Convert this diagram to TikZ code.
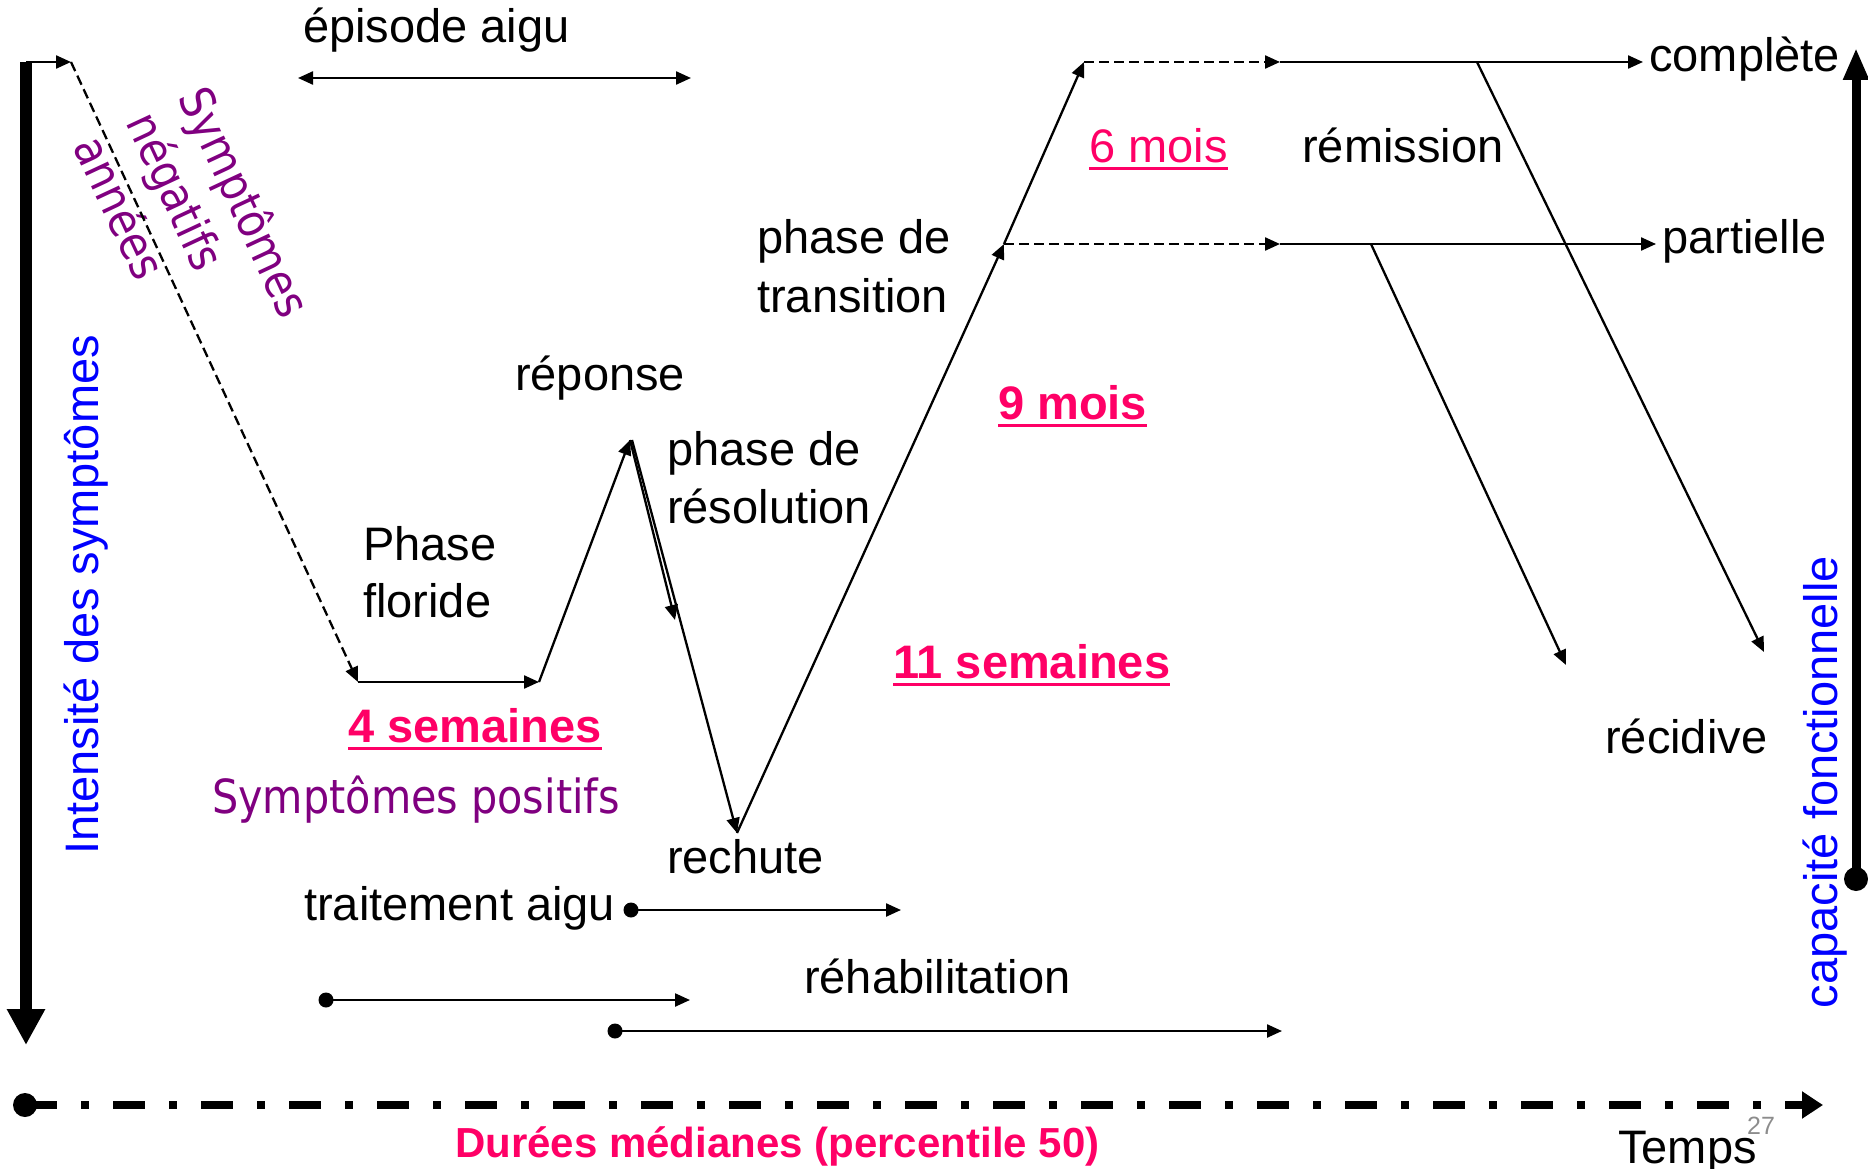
\documentclass[tikz,border=0pt]{standalone}
\usepackage{fontspec}
\setmainfont{Liberation Sans}
\newfontfamily\tahoma[FakeStretch=0.88]{DejaVu Sans}
\usetikzlibrary{arrows.meta}
\definecolor{pinkc}{RGB}{255,0,102}
\definecolor{purp}{RGB}{128,0,128}
\definecolor{bluec}{RGB}{0,0,255}
\definecolor{grayc}{RGB}{140,140,140}
\tikzset{
  txt/.style={inner sep=0pt, anchor=base west, font=\fontsize{47}{56}\selectfont},
  btxt/.style={txt, text=pinkc, font=\fontsize{47}{56}\selectfont\bfseries},
  rtxt/.style={txt, text=pinkc},
  ptxt/.style={txt, text=purp, font=\tahoma\fontsize{47}{58}\selectfont},
  bluetxt/.style={txt, text=bluec, rotate=90, anchor=base},
  uline/.style={pinkc, line width=3pt},
  conn/.style={line width=2.3pt, -{Triangle[length=15pt,width=13pt]}},
  dconn/.style={conn, dash pattern=on 10pt off 5pt},
  dbl/.style={line width=2.3pt, {Triangle[length=15pt,width=13pt]}-{Triangle[length=15pt,width=13pt]}},
  dot/.style={circle, fill=black, inner sep=0pt, minimum size=15pt},
  bigdot/.style={circle, fill=black, inner sep=0pt, minimum size=24pt},
}
\begin{document}
\begin{tikzpicture}[x=1pt,y=-1pt]
\useasboundingbox (0,0) rectangle (1868,1169);

% ---------- axes ----------
\coordinate (ltop) at (26,62);
\coordinate (lbot) at (26,1045);
\draw[line width=12pt, -{Triangle[length=36pt,width=36pt]}] (ltop) -- (lbot);

\node[bigdot] (rdot) at (1856,879) {};
\coordinate (rtop) at (1856,48);
\draw[line width=9pt, -{Triangle[length=32pt,width=24pt]}] (rdot.center) -- (rtop);

\node[bigdot] (orig) at (25,1105) {};
\coordinate (tend) at (1823,1105);
\draw[line width=8pt, dash pattern=on 32pt off 24pt on 8pt off 24pt, -{Triangle[length=21pt,width=26pt]}] (orig.center) -- (tend);

% ---------- texts ----------
\node[txt] (episode) at (303,43) {épisode aigu};
\node[txt] (floride1) at (363,560) {Phase};
\node[txt] (floride2) at (363,617) {floride};
\node[btxt] (quatre) at (348,742) {4 semaines};
\node[ptxt] (positifs) at (212,813) {Symptômes positifs};
\node[txt] (reponse) at (515,390) {réponse};
\node[txt] (resol1) at (667,465) {phase de};
\node[txt] (resol2) at (667,523) {résolution};
\node[txt] (trans1) at (757,253) {phase de};
\node[txt] (trans2) at (757,312) {transition};
\node[btxt] (neuf) at (998,419) {9 mois};
\node[btxt] (onze) at (893,678) {11 semaines};
\node[rtxt] (six) at (1089,163) {6 mois};
\node[txt] (remission) at (1302,163) {rémission};
\node[txt] (complete) at (1649,72) {complète};
\node[txt] (partielle) at (1662,253) {partielle};
\node[txt] (recidive) at (1605,753) {récidive};
\node[txt] (rechute) at (667,873) {rechute};
\node[txt] (traitement) at (304,920) {traitement aigu};
\node[txt] (rehab) at (804,993) {réhabilitation};
\node[txt] (temps) at (1618,1163) {Temps};
\node[txt, text=grayc, font=\fontsize{25}{30}\selectfont] (page) at (1747,1134) {27};
\node[txt, text=pinkc, font=\fontsize{42}{50}\selectfont\bfseries] (durees) at (455,1157) {Durées médianes (percentile 50)};
\node[bluetxt] (intensite) at (98,595) {Intensité des symptômes};
\node[bluetxt] (capacite) at (1837,782) {capacité fonctionnelle};
\node[ptxt, anchor=center, rotate=-65, align=left] (negatifs) at (194,226) {Symptômes\\négatifs\\années};

% underlines
\foreach \n in {quatre,neuf,onze,six}
  \draw[uline] ([yshift=-6pt]\n.base west) -- ([yshift=-6pt]\n.base east);

% ---------- course ----------
\coordinate (s0) at (71,62);
\coordinate (f1) at (358,682);
\coordinate (f2) at (539,682);
\coordinate (pk) at (630,440);
\coordinate (ra) at (675,620);
\coordinate (rc) at (737,833);
\coordinate (j2) at (1004,244);
\coordinate (j1) at (1084,62);
\coordinate (m1) at (1280,62);
\coordinate (p1) at (1280,244);
\coordinate (b1) at (1477,62);
\coordinate (e1) at (1764,652);
\coordinate (b2) at (1371,244);
\coordinate (e2) at (1566,665);

\draw[conn] (ltop) -- (s0);
\draw[dconn] (s0) -- (f1);
\draw[conn] (f1) -- (f2);
\draw[conn] (f2) -- (pk);
\draw[conn] (pk) -- (ra);
\draw[conn] ([xshift=2pt]pk) -- (rc);
\draw[conn] (rc) -- (j2);
\draw[conn] (j2) -- (j1);
\draw[dconn] (j1) -- (m1);
\draw[conn] (m1) -- ([xshift=-6pt]m1 -| complete.west);
\draw[dconn] (j2) -- (p1);
\draw[conn] (p1) -- ([xshift=-6pt]p1 -| partielle.west);
\draw[conn] (b1) -- (e1);
\draw[conn] (b2) -- (e2);

% ---------- episode / treatment ----------
\coordinate (ea) at (298,78);
\coordinate (eb) at (691,78);
\draw[dbl] (ea) -- (eb);

\node[dot] (t0) at (631,910) {};
\coordinate (t1) at (901,910);
\draw[conn] (t0.center) -- (t1);

\node[dot] (h0) at (326,1000) {};
\coordinate (h1) at (690,1000);
\draw[conn] (h0.center) -- (h1);

\node[dot] (g0) at (615,1031) {};
\coordinate (g1) at (1282,1031);
\draw[conn] (g0.center) -- (g1);
\end{tikzpicture}
\end{document}
